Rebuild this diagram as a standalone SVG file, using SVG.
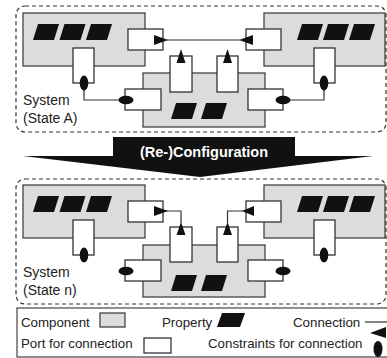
<svg xmlns="http://www.w3.org/2000/svg" width="387" height="358" viewBox="0 0 387 358">
<style>
.sys{fill:none;stroke:#333;stroke-width:1.2;stroke-dasharray:4 3}
.comp{fill:#dcdcdc;stroke:#444;stroke-width:1.3}
.port{fill:#fff;stroke:#333;stroke-width:1.3}
.prop{fill:#111}
.con{fill:none;stroke:#333;stroke-width:1.2}
.mk{fill:#111}
.t{font-family:"Liberation Sans",Arial,sans-serif;fill:#222}
</style>
<defs>
<path id="pg" d="M0,16 L21,16 L26,0 L5,0 Z"/>
</defs>
<rect width="387" height="358" fill="#fff"/>

<!-- System State A -->
<g id="systemA">
<rect class="sys" x="16" y="6" width="370" height="126" rx="9"/>
<text class="t" x="23" y="105" font-size="14">System</text>
<text class="t" x="23" y="123" font-size="14">(State A)</text>
</g>
<g id="A-compLeft">
<rect class="comp" x="23" y="13" width="122" height="53"/>
<use href="#pg" class="prop" x="33" y="24"/>
<use href="#pg" class="prop" x="59.5" y="24"/>
<use href="#pg" class="prop" x="86" y="24"/>
<rect class="port" x="128" y="29" width="35" height="21"/>
<rect class="port" x="73" y="48" width="21" height="35"/>
</g>
<g id="A-compRight">
<rect class="comp" x="264" y="13" width="121" height="53"/>
<use href="#pg" class="prop" x="297" y="24"/>
<use href="#pg" class="prop" x="323" y="24"/>
<use href="#pg" class="prop" x="349" y="24"/>
<rect class="port" x="246" y="29" width="35" height="21"/>
<rect class="port" x="314" y="48" width="21" height="35"/>
</g>
<g id="A-compBottom">
<rect class="comp" x="143" y="73" width="122" height="54"/>
<use href="#pg" class="prop" x="171" y="103"/>
<use href="#pg" class="prop" x="201" y="103"/>
<rect class="port" x="170" y="56" width="22" height="36"/>
<rect class="port" x="217" y="56" width="21" height="36"/>
<rect class="port" x="125" y="89" width="36" height="21"/>
<rect class="port" x="248" y="89" width="35" height="21"/>
</g>
<g id="A-connectors">
<line class="con" x1="166" y1="40" x2="240" y2="40"/>
<polyline class="con" points="84,83 84,100 126,100"/>
<polyline class="con" points="283,100 324,100 324,83"/>
<polygon class="mk" points="154,35 168,40 154,45"/>
<polygon class="mk" points="239,40 253,35 253,45"/>
<polygon class="mk" points="181,49 185.5,63 176.5,63"/>
<polygon class="mk" points="227.5,49 232,63 223,63"/>
<ellipse class="mk" cx="84" cy="83" rx="4.3" ry="7.5"/>
<ellipse class="mk" cx="324" cy="83" rx="4.3" ry="7.5"/>
<ellipse class="mk" cx="126" cy="100" rx="7.5" ry="4.3"/>
<ellipse class="mk" cx="283" cy="100" rx="7.5" ry="4.3"/>
</g>

<!-- Reconfiguration arrow -->
<g id="reconfig">
<polygon fill="#111" points="113,137 295,137 295,156 373,156 200,177 23,156 113,156"/>
<text class="t" x="204" y="157" font-size="14.5" font-weight="bold" fill="#fff" style="fill:#fff" text-anchor="middle">(Re-)Configuration</text>
</g>

<!-- System State n -->
<g id="systemN">
<rect class="sys" x="16" y="179" width="370" height="125" rx="9"/>
<text class="t" x="23" y="277" font-size="14">System</text>
<text class="t" x="23" y="295" font-size="14">(State n)</text>
</g>
<g id="N-compLeft">
<rect class="comp" x="23" y="185" width="122" height="53"/>
<use href="#pg" class="prop" x="33" y="196"/>
<use href="#pg" class="prop" x="59.5" y="196"/>
<use href="#pg" class="prop" x="86" y="196"/>
<rect class="port" x="128" y="201" width="35" height="21"/>
<rect class="port" x="73" y="220" width="21" height="35"/>
</g>
<g id="N-compRight">
<rect class="comp" x="264" y="185" width="121" height="53"/>
<use href="#pg" class="prop" x="297" y="196"/>
<use href="#pg" class="prop" x="323" y="196"/>
<use href="#pg" class="prop" x="349" y="196"/>
<rect class="port" x="246" y="201" width="35" height="21"/>
<rect class="port" x="314" y="220" width="21" height="35"/>
</g>
<g id="N-compBottom">
<rect class="comp" x="143" y="245" width="122" height="52"/>
<use href="#pg" class="prop" x="171" y="275"/>
<use href="#pg" class="prop" x="201" y="275"/>
<rect class="port" x="170" y="227" width="22" height="35"/>
<rect class="port" x="217" y="227" width="21" height="35"/>
<rect class="port" x="125" y="260" width="36" height="21"/>
<rect class="port" x="248" y="260" width="35" height="21"/>
</g>
<g id="N-connectors">
<polyline class="con" points="166,211 181,211 181,223"/>
<polyline class="con" points="243,211 227.5,211 227.5,223"/>
<polygon class="mk" points="154,206 168,211 154,216"/>
<polygon class="mk" points="242,211 254,206 254,216"/>
<polygon class="mk" points="181,222 185.5,235 176.5,235"/>
<polygon class="mk" points="227.5,222 232,235 223,235"/>
<ellipse class="mk" cx="84" cy="255" rx="4.3" ry="7.5"/>
<ellipse class="mk" cx="324" cy="255" rx="4.3" ry="7.5"/>
<ellipse class="mk" cx="126" cy="271" rx="7.5" ry="4.3"/>
<ellipse class="mk" cx="283" cy="271" rx="7.5" ry="4.3"/>
</g>

<!-- Legend -->
<g id="legend">
<rect x="17" y="308" width="380" height="49" fill="#fff" stroke="#444" stroke-width="1.2"/>
<text class="t" x="21" y="327" font-size="13.3">Component</text>
<rect class="comp" x="100" y="313" width="25" height="14"/>
<text class="t" x="162" y="327" font-size="13.3">Property</text>
<path class="prop" d="M217,327 L240,327 L245,313 L222,313 Z"/>
<text class="t" x="293" y="327" font-size="13.3">Connection</text>
<line class="con" x1="365" y1="322" x2="387" y2="322"/>
<text class="t" x="21" y="348" font-size="13.3">Port for connection</text>
<rect class="port" x="144" y="338" width="27" height="15"/>
<text class="t" x="208" y="348" font-size="13.3">Constraints for connection</text>
<polygon class="mk" points="370,333 386,327 386,338"/>
<ellipse class="mk" cx="378" cy="349" rx="4.5" ry="8"/>
</g>
</svg>
